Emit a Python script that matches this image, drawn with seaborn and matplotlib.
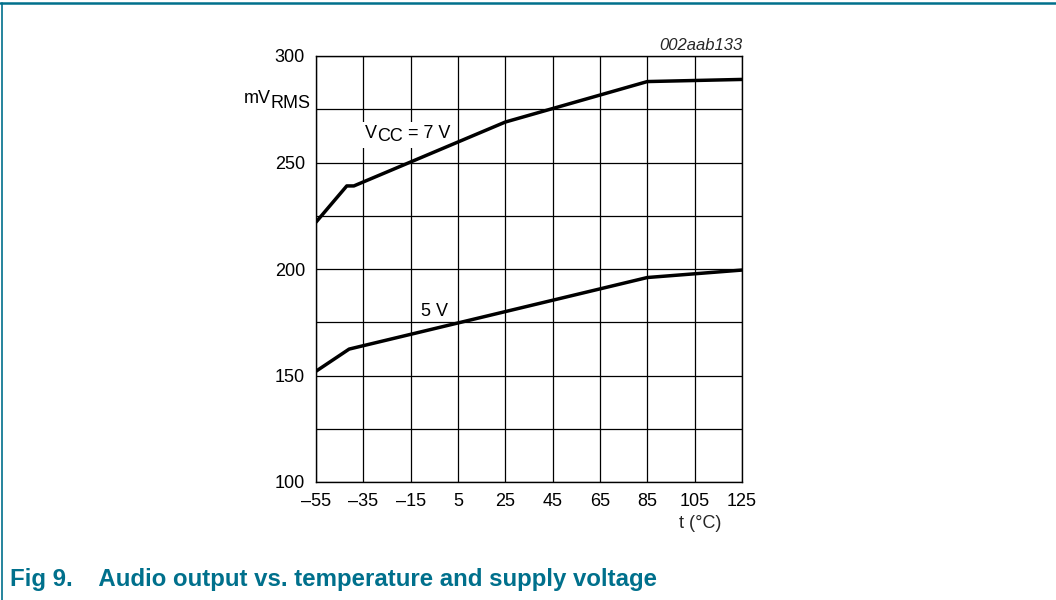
"""Audio output vs. temperature and supply voltage (datasheet Fig 9)."""

import matplotlib
matplotlib.use("Agg")
import matplotlib.pyplot as plt
import pandas as pd
import seaborn as sns
from matplotlib.lines import Line2D
from matplotlib.patches import Rectangle

# Curve data (t in degC, output in mV RMS)
temp_7v = [-55, -42, -39, 25, 85, 125]
out_7v = [222, 239, 239, 269, 288, 289]
temp_5v = [-55, -41, 85, 125]
out_5v = [152, 162.4, 196, 199.5]

x_ticks = [-55, -35, -15, 5, 25, 45, 65, 85, 105, 125]
y_grid = [100, 125, 150, 175, 200, 225, 250, 275, 300]
y_labels = [100, 150, 200, 250, 300]

TEAL = "#00708c"

sns.set_theme(style="white")
plt.rcParams["font.family"] = ["Liberation Sans", "DejaVu Sans"]

fig = plt.figure(figsize=(10.56, 6.0), dpi=100)
ax = fig.add_axes([316 / 1056, 1 - 482 / 600, 426 / 1056, 426 / 600])

df = pd.concat([
    pd.DataFrame({"t": temp_7v, "v": out_7v, "vcc": "7 V"}),
    pd.DataFrame({"t": temp_5v, "v": out_5v, "vcc": "5 V"}),
])
sns.lineplot(data=df, x="t", y="v", units="vcc", estimator=None, sort=False,
             color="black", lw=2.5, ax=ax, zorder=5)

ax.set_xlim(-55, 125)
ax.set_ylim(100, 300)
ax.set_xticks(x_ticks)
ax.set_xticklabels([str(v).replace("-", "\u2013") for v in x_ticks])
ax.set_yticks(y_grid)
ax.set_yticklabels([str(v) if v in y_labels else "" for v in y_grid])
ax.tick_params(length=0, labelsize=13, colors="black")
ax.tick_params(axis="x", pad=8)
ax.tick_params(axis="y", pad=8)
ax.set_xlabel("")
ax.set_ylabel("")
ax.grid(True, color="black", lw=0.9)
for sp in ax.spines.values():
    sp.set_color("black")
    sp.set_linewidth(1.0)

fig.canvas.draw()
renderer = fig.canvas.get_renderer()


def px(x, y):
    return fig.transFigure.inverted().transform((x, 600 - y))


def sub_label(x0, y_base, main, sub, tail, size, drop):
    # main text, then a near full-size lowered subscript, then the rest
    kw = dict(fontsize=size, color="black", va="baseline")
    parts = [fig.text(*px(x0, y_base), main, ha="right", **kw),
             fig.text(*px(x0, y_base + drop), sub, ha="left", **kw)]
    if tail:
        x1 = parts[1].get_window_extent(renderer).x1
        parts.append(fig.text(x1 / fig.bbox.width, (600 - y_base) / 600,
                              tail, ha="left", **kw))
    return parts


vcc_parts = sub_label(377, 138, "V", "CC", " = 7 V", 13, 3)
sub_label(271, 103, "mV", "RMS", "", 13, 5)

# white box behind the V_CC label, between grid and curve
exts = [p.get_window_extent(renderer) for p in vcc_parts]
x0 = min(e.x0 for e in exts) - 3
x1 = max(e.x1 for e in exts) + 4
y0 = min(e.y0 for e in exts) - 3
y1 = max(e.y1 for e in exts) + 3
ax.add_patch(Rectangle((x0 / 1056, y0 / 600), (x1 - x0) / 1056, (y1 - y0) / 600,
                       transform=fig.transFigure, facecolor="white",
                       edgecolor="none", zorder=3, clip_on=False))

ax.text(-5, 178, "5 V", fontsize=13, ha="center", va="baseline",
        color="black", zorder=4)
fig.text(*px(700, 524), "t (\u00b0C)", fontsize=13, ha="center", va="center")
fig.text(*px(743, 50), "002aab133", fontsize=12, style="italic",
         ha="right", va="baseline")

# Caption and frame
fig.text(*px(10, 586), "Fig 9.    Audio output vs. temperature and supply voltage",
         fontsize=17.3, fontweight="bold", color=TEAL, ha="left", va="baseline")
fig.add_artist(Line2D([0, 1], [1 - 2.5 / 600] * 2, color=TEAL, lw=1.8,
                      transform=fig.transFigure))
fig.add_artist(Line2D([2 / 1056] * 2, [0, 1 - 2.5 / 600], color=TEAL, lw=1.2,
                      transform=fig.transFigure))

fig.savefig("out.png", dpi=100, facecolor="white")
